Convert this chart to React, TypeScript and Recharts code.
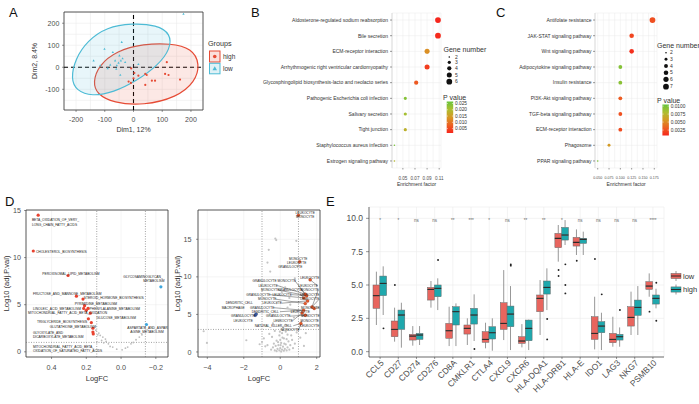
import React from 'react';
import {
  ScatterChart, Scatter, XAxis, YAxis, ZAxis, CartesianGrid, ReferenceLine, ReferenceArea,
  ComposedChart, Bar, Cell,
} from 'recharts';

const FONT = "'Liberation Sans', Arial, Helvetica, sans-serif";
const INK = '#333333';
const GRID = '#ebebeb';

// ---------- A: PCA ----------
const pcaHigh = [[116, 23], [110, -30], [122, -35], [162, -56], [41, -30], [46, -35], [64, -61], [75, -61], [41, -80], [17, -38], [3, -26], [-17, -65], [-9, -71], [0, -50], [-8, -5]];
const pcaLow = [[174, 242], [-41, 114], [-101, 83], [-72, 68], [-139, 30], [-49, 53], [-64, 30], [-44, 30], [-29, 23], [-81, 11], [-58, 8], [-60, -8], [-46, -35], [17, 14], [-116, 8], [-38, 40], [-52, 20], [-90, -5]];
const ellipseHigh = [[-141, -68], [-122, 8], [-58, 76], [35, 106], [128, 109], [203, 86], [232, 15], [214, -68], [151, -136], [35, -174], [-70, -162], [-128, -121]];
const ellipseLow = [[-218, -53], [-203, 38], [-160, 121], [-93, 182], [-6, 200], [81, 192], [130, 152], [128, 83], [87, 11], [12, -61], [-70, -114], [-145, -132], [-199, -106]];

// ---------- B / C: KEGG enrichment ----------
const bTerms = ['Aldosterone-regulated sodium reabsorption', 'Bile secretion', 'ECM-receptor interaction', 'Arrhythmogenic right ventricular cardiomyopathy', 'Glycosphingolipid biosynthesis-lacto and neolacto series', 'Pathogenic Escherichia coli infection', 'Salivary secretion', 'Tight junction', 'Staphylococcus aureus infection', 'Estrogen signaling pathway'];
const bFactor = [0.108, 0.108, 0.09, 0.09, 0.072, 0.054, 0.054, 0.054, 0.036, 0.036];
const bGenes = [6, 6, 5, 5, 4, 3, 3, 3, 2, 2];
const bPval = [0.0015, 0.002, 0.013, 0.004, 0.007, 0.024, 0.021, 0.018, 0.025, 0.019];

const cTerms = ['Antifolate resistance', 'JAK-STAT signaling pathway', 'Wnt signaling pathway', 'Adipocytokine signaling pathway', 'Insulin resistance', 'PI3K-Akt signaling pathway', 'TGF-beta signaling pathway', 'ECM-receptor interaction', 'Phagosome', 'PPAR signaling pathway'];
const cFactor = [0.171, 0.125, 0.125, 0.1, 0.1, 0.1, 0.1, 0.1, 0.075, 0.05];
const cGenes = [7, 5, 5, 4, 4, 4, 4, 4, 3, 2];
const cPval = [0.0025, 0.0021, 0.0012, 0.0095, 0.0093, 0.003, 0.0026, 0.0024, 0.0058, 0.0098];

// ---------- D: volcano (pathways) ----------
const dGray = [[0.139, 1.06], [0.134, 1.8], [0.128, 1.99], [0.12, 1.74], [0.105, 1.56], [0.09, 1.35], [0.086, 1.1], [0.073, 0.85], [0.063, 0.57], [0.048, 0.5], [0.025, 0.28], [-0.006, 0.21], [-0.025, 0.39], [-0.038, 0.5], [-0.057, 0.85], [-0.07, 0.99], [-0.086, 1.28], [-0.105, 1.56], [-0.12, 1.81], [0.1, 0.95], [0.112, 1.2], [0.145, 2.3]];
const dUp = [[0.477, 14.5], [0.505, 10.7], [0.305, 8.1], [0.257, 5.9], [0.219, 5.6], [0.21, 4.9], [0.215, 4.6], [0.19, 4.6], [0.177, 4.1], [0.188, 3.5], [0.171, 3.1], [0.162, 2.5], [0.162, 2.1], [0.16, 1.9], [0.2, 4.4]];
const dDown = [[-0.229, 6.9], [-0.146, 2.9]];
const dLabelText = ['BETA_OXIDATION_OF_VERY_', 'LONG_CHAIN_FATTY_ACIDS', 'CHOLESTEROL_BIOSYNTHESIS', 'PEROXISOMAL_LIPID_METABOLISM', 'FRUCTOSE_AND_MANNOSE_METABOLISM', 'STEROID_HORMONE_BIOSYNTHESIS', 'PYRIMIDINE_METABOLISM', 'LINOLEIC_ACID_METABOLISM', 'PHENYLALANINE_METABOLISM', 'MITOCHONDRIAL_FATTY_ACID_BETA_OXIDATION', 'GLUCOSE_METABOLISM', 'TRIGLYCERIDE_BIOSYNTHESIS', 'GLUTATHIONE_METABOLISM', 'GLYOXYLATE_AND', 'DICARBOXYLATE_METABOLISM', 'MITOCHONDRIAL_FATTY_ACID_BETA_', 'OXIDATION_OF_SATURATED_FATTY_ACIDS', 'GLYCOSAMINOGLYCAN_', 'METABOLISM', 'ASPARTATE_AND_ASPAR', 'AGINE_METABOLISM'];
const dLabelPos = [[0.513, 14.04], [0.513, 13.5], [0.49, 10.6], [0.453, 8.3], [0.507, 6.1], [0.215, 5.75], [0.267, 5.1], [0.507, 4.57], [0.181, 4.57], [0.535, 4.1], [0.141, 3.6], [0.484, 3.14], [0.41, 2.6], [0.507, 2.0], [0.507, 1.54], [0.507, 0.53], [0.507, 0.05], [-0.013, 7.98], [-0.127, 7.55], [-0.036, 2.55], [-0.053, 2.07]];

// ---------- D2: volcano (cell types) ----------
const d2Gray = [[-4.2, 2.76], [-4.02, 1.2], [-1.86, 1.56], [-1.13, 1.03], [-1.0, 1.33], [-0.82, 0.75], [-0.27, 15.1], [-0.22, 14.9], [-0.63, 13.6], [-0.7, 11.9], [-0.55, 10.7], [0.88, 14.8], [0.95, 11.4], [0.27, 8.6], [0.09, 8.0], [0.5, 7.2], [-0.2, 6.5], [0.6, 5.4], [-0.1, 4.2], [0.3, 3.6], [0.75, 4.6], [0.4, 5.9], [0.8, 9.8], [0.15, 3.3], [-0.4, 3.8], [0.55, 6.3], [-0.5, 0.3], [-0.4, 0.6], [-0.35, 1.1], [-0.3, 0.2], [-0.25, 0.8], [-0.2, 1.5], [-0.15, 0.4], [-0.1, 0.9], [-0.05, 0.2], [0, 0.5], [0.05, 1.2], [0.1, 0.3], [0.15, 0.7], [0.2, 1.8], [0.25, 0.4], [0.3, 1.0], [0.35, 0.2], [0.4, 0.6], [0.45, 1.4], [0.5, 0.3], [0.55, 0.9], [0.6, 2.2], [0.7, 0.5], [0.8, 1.1], [0.9, 2.6], [-0.6, 2.4], [-0.45, 2.0], [0.1, 2.5], [0.3, 2.7], [0.05, 0.05], [-0.2, 0.1], [0.2, 0.15], [0.0, 1.6], [-0.05, 2.2], [0.15, 2.9], [0.4, 2.3], [-0.3, 2.8], [0.65, 1.6], [1.1, 1.9], [1.4, 2.5], [1.3, 0.8], [-0.7, 0.9], [-0.9, 1.8], [0.02, 0.9], [-0.12, 1.3], [0.22, 1.1], [0.12, 1.9], [-0.02, 2.7], [0.35, 1.7]];
const d2Up = [[1.0, 18.2], [1.06, 12.0], [1.64, 9.6], [1.37, 7.7], [1.45, 7.5], [1.3, 7.2], [1.37, 6.45], [1.74, 6.0], [1.86, 5.8], [1.28, 5.56], [1.37, 4.9], [1.13, 3.8], [1.2, 5.2], [1.5, 6.8]];
const d2Down = [[-1.37, 4.9], [-1.32, 5.05]];
const d2LabelText = ['LEUKOCYTE', 'MONOCYTE', 'MONOCYTE', 'LEUKOCYTE', 'GRANULOCYTE', 'LEUKOCYTE', 'GRANULOCYTE', 'MONOCYTE', 'LEUKOCYTE', 'LEUKOCYTE', 'MONOCYTE', 'GRANULOCYTE', 'MONOCYTE', 'GRANULOCYTE', 'LEUKOCYTE', 'LEUKOCYTE', 'MONOCYTE', 'LEUKOCYTE', 'DENDRITIC_CELL', 'LEUKOCYTE', 'MACROPHAGE', 'GRANULOCYTE', 'MONOCYTE', 'DENDRITIC_CELL', 'LEUKOCYTE', 'GRANULOCYTE', 'GRANULOCYTE', 'MONOCYTE', 'LEUKOCYTE', 'LEUKOCYTE', 'MONOCYTE', 'NATURAL_KILLER_CELL', 'LEUKOCYTE', 'MONOCYTE'];
const d2LabelPos = [[1.37, 18.56], [1.37, 17.96], [0.99, 12.43], [0.9, 11.9], [0.55, 11.3], [1.62, 9.9], [-0.86, 9.43], [0.36, 9.43], [-0.66, 8.83], [1.53, 8.83], [-0.55, 8.23], [0.55, 8.23], [1.62, 8.23], [-1.2, 7.63], [0.11, 7.63], [1.62, 7.63], [-0.71, 7.03], [1.62, 7.03], [-2.25, 6.49], [-0.44, 6.49], [-2.58, 5.89], [-0.99, 5.89], [1.65, 5.89], [-0.82, 5.36], [1.1, 5.36], [-2.03, 4.76], [-0.11, 4.76], [1.65, 4.76], [-2.03, 4.16], [0.16, 4.16], [1.62, 4.1], [-0.38, 3.49], [1.62, 3.43], [0.55, 2.9]];
const d2Leaders = [[8, 3], [10, 4], [13, 5], [14, 4], [16, 6], [19, 13], [21, 9], [23, 9], [26, 10], [29, 12], [31, 11], [33, 11], [7, 3], [11, 3], [22, 8], [27, 10], [30, 11], [32, 11], [12, 7], [15, 13], [17, 7], [9, 2]];

// ---------- E: boxplots ----------
const eGenes = ['CCL5', 'CD27', 'CD274', 'CD276', 'CD8A', 'CMKLR1', 'CTLA4', 'CXCL9', 'CXCR6', 'HLA-DQA1', 'HLA-DRB1', 'HLA-E', 'IDO1', 'LAG3', 'NKG7', 'PSMB10'];
// [min, q1, median, q3, max]
const lowBox = [[2.0, 3.25, 4.2, 5.0, 6.0], [0.75, 1.12, 1.67, 2.3, 3.3], [0.45, 0.87, 1.17, 1.3, 1.92], [3.3, 3.87, 4.67, 4.82, 5.3], [0.42, 1.0, 1.57, 2.12, 3.37], [0.5, 1.32, 1.75, 2.0, 2.5], [0.25, 0.7, 0.92, 1.5, 2.17], [0.87, 1.67, 2.12, 3.67, 6.12], [0.32, 0.62, 0.8, 1.12, 2.07], [1.25, 3.0, 4.0, 4.25, 5.37], [6.75, 7.8, 8.5, 8.87, 9.5], [7.25, 7.92, 8.2, 8.57, 9.17], [0.17, 0.92, 1.37, 2.62, 4.12], [0.37, 0.67, 0.92, 1.37, 2.62], [1.25, 1.92, 2.57, 3.37, 4.5], [4.12, 4.67, 4.92, 5.25, 5.87]];
const highBox = [[2.75, 4.2, 5.12, 5.67, 6.4], [0.3, 1.67, 2.75, 3.12, 3.67], [0.5, 0.92, 1.25, 1.37, 1.92], [3.12, 4.12, 4.75, 5.0, 5.5], [0.42, 2.0, 3.0, 3.37, 3.62], [0.8, 2.07, 2.75, 3.25, 4.3], [0.07, 0.95, 1.42, 1.87, 2.5], [0.12, 1.87, 2.82, 3.42, 4.92], [0.12, 0.82, 1.75, 2.37, 2.4], [3.12, 4.32, 4.82, 5.3, 6.25], [8.0, 8.37, 8.75, 9.32, 9.87], [7.25, 8.12, 8.42, 8.5, 9.0], [0.12, 1.42, 1.92, 2.25, 2.92], [0.37, 0.87, 1.12, 1.3, 1.82], [1.25, 2.72, 3.32, 3.87, 4.92], [3.25, 3.57, 4.0, 4.25, 4.72]];
const lowOutliers = [[], [5.0], [], [], [], [], [], [], [], [], [6.12, 5.67], [6.82], [6.95], [], [], [3.0]];
const highOutliers = [[1.75], [], [], [6.87], [], [0.2], [], [6.55, 6.45], [], [2.45, 0.92], [6.55, 5.0, 4.37], [], [4.3], [3.12], [], [5.17, 2.32]];
const eSig = ['*', '*', 'ns', 'ns', '**', '***', '*', 'ns', '**', '**', '*', 'ns', 'ns', 'ns', 'ns', '****'];

// ---------- helpers ----------
const pStops: [number, number[]][] = [[0, [246, 38, 28]], [0.25, [236, 96, 34]], [0.5, [214, 152, 36]], [0.75, [172, 190, 48]], [1, [104, 196, 60]]];
function pColor(t: number) {
  const u = Math.max(0, Math.min(1, t));
  for (let i = 1; i < pStops.length; i++) {
    const [t0, c0] = pStops[i - 1];
    const [t1, c1] = pStops[i];
    if (u <= t1) {
      const f = (u - t0) / (t1 - t0);
      return `rgb(${c0.map((c, k) => Math.round(c + (c1[k] - c) * f)).join(',')})`;
    }
  }
  return 'rgb(104,196,60)';
}

type TickCfg = { side: 'x' | 'y'; len: number; gap: number; font: number; fmt?: (v: any) => string; show?: (v: number) => boolean; color?: string; rotate?: boolean };
function makeTick(c: TickCfg) {
  return (p: any) => {
    const v = p.payload.value;
    if (c.show && !c.show(v)) return <g />;
    const label = c.fmt ? c.fmt(v) : String(v);
    const fill = c.color ?? '#4d4d4d';
    if (c.side === 'x') {
      const y0 = p.y - c.gap - c.len;
      return (
        <g>
          {c.len > 0 && <line x1={p.x} x2={p.x} y1={y0} y2={y0 + c.len} stroke={INK} strokeWidth={0.5} />}
          {c.rotate ? (
            <text x={p.x + 1} y={p.y} dy="0.55em" textAnchor="end" fontSize={c.font} fill={fill} transform={`rotate(-45 ${p.x + 1} ${p.y})`}>{label}</text>
          ) : (
            <text x={p.x} y={p.y + c.font * 0.75} textAnchor="middle" fontSize={c.font} fill={fill}>{label}</text>
          )}
        </g>
      );
    }
    const x0 = p.x + c.gap + c.len;
    return (
      <g>
        {c.len > 0 && <line x1={x0 - c.len} x2={x0} y1={p.y} y2={p.y} stroke={INK} strokeWidth={0.5} />}
        <text x={p.x} y={p.y + c.font * 0.36} textAnchor="end" fontSize={c.font} fill={fill}>{label}</text>
      </g>
    );
  };
}

const signed = (d: number) => (v: number) => (v < 0 ? '\u2212' + Math.abs(v).toFixed(d) : v.toFixed(d));
const pts = (a: number[][]) => a.map(([x, y]) => ({ x, y }));
const none = () => <g />;
const dot = (r: number, fill: string, stroke?: string) => (p: any) => (
  <circle cx={p.cx} cy={p.cy} r={r} fill={fill} stroke={stroke ?? 'none'} strokeWidth={0.3} />
);
const tri = (s: number, fill: string) => (p: any) => (
  <polygon points={`${p.cx},${p.cy - s} ${p.cx - s * 0.9},${p.cy + s * 0.6} ${p.cx + s * 0.9},${p.cy + s * 0.6}`} fill={fill} />
);
const textMark = (font: number, anchor: 'start' | 'middle') => (p: any) => (
  <text x={p.cx} y={p.cy} fontSize={font} textAnchor={anchor} dominantBaseline="central" fill="#1a1a1a">{p.payload.t}</text>
);

// ---------- panels ----------
const A_HIGH = '#E64B35';
const A_LOW = '#4DBBD5';

function PanelA() {
  return (
    <div style={{ position: 'absolute', left: 0, top: 0 }}>
      <ScatterChart width={210} height={140} margin={{ top: 12, right: 7, bottom: 0, left: 0 }}>
        <CartesianGrid stroke={GRID} strokeWidth={0.6} />
        <XAxis type="number" dataKey="x" domain={[-242, 242]} allowDataOverflow ticks={[-200, -150, -100, -50, 0, 50, 100, 150, 200]} interval={0}
          tickSize={2} tickMargin={4.7} tickLine={false} axisLine={false} height={30}
          tick={makeTick({ side: 'x', len: 2, gap: 4.7, font: 7, show: (v) => v % 100 === 0 })}
          label={{ value: 'Dim1, 12%', position: 'center', dy: 5, fontSize: 7, fill: INK }} />
        <YAxis type="number" dataKey="y" domain={[-194, 251]} allowDataOverflow ticks={[-150, -100, -50, 0, 50, 100, 150, 200, 250]} interval={0}
          tickSize={2} tickMargin={2.7} tickLine={false} axisLine={false} width={64}
          tick={makeTick({ side: 'y', len: 2, gap: 2.7, font: 7, show: (v) => v % 100 === 0 })}
          label={{ value: 'Dim2, 8.4%', angle: -90, position: 'center', dx: 3, fontSize: 7, fill: INK }} />
        <Scatter data={pts(ellipseHigh)} line={{ stroke: A_HIGH, strokeWidth: 1.2, fill: A_HIGH, fillOpacity: 0.13 }} lineType="joint" lineJointType="basisClosed" shape={none} isAnimationActive={false} />
        <Scatter data={pts(ellipseLow)} line={{ stroke: A_LOW, strokeWidth: 1.2, fill: A_LOW, fillOpacity: 0.13 }} lineType="joint" lineJointType="basisClosed" shape={none} isAnimationActive={false} />
        <ReferenceLine x={0} stroke="#000" strokeDasharray="4 3" strokeWidth={1.1} />
        <ReferenceLine y={0} stroke="#000" strokeDasharray="4 3" strokeWidth={1.1} />
        <Scatter data={pts(pcaLow)} shape={tri(1.3, A_LOW)} isAnimationActive={false} />
        <Scatter data={pts(pcaHigh)} shape={dot(1.1, A_HIGH)} isAnimationActive={false} />
        <ReferenceArea x1={-242} x2={242} y1={-194} y2={251} fill="none" stroke="#333" strokeWidth={0.8} />
      </ScatterChart>
    </div>
  );
}

type EnrichProps = {
  left: number; width: number; right: number; yWidth: number; yGap: number;
  terms: string[]; factor: number[]; genes: number[]; pval: number[];
  domain: [number, number]; ticks: number[]; majors: number[]; fmtDigits: number; tickFont: number;
  pRange: [number, number]; zDomain: [number, number];
};
function Enrich(props: EnrichProps) {
  const n = props.terms.length;
  const data = props.terms.map((t, i) => ({ x: props.factor[i], y: n - i, g: props.genes[i], p: props.pval[i] }));
  const [p0, p1] = props.pRange;
  return (
    <div style={{ position: 'absolute', left: props.left, top: 0 }}>
      <ScatterChart width={props.width} height={190} margin={{ top: 13, right: props.right, bottom: 0, left: 0 }}>
        <CartesianGrid stroke={GRID} strokeWidth={0.5} />
        <XAxis type="number" dataKey="x" domain={props.domain} allowDataOverflow ticks={props.ticks} interval={0}
          tickSize={1.5} tickMargin={7} tickLine={false} axisLine={false} height={22}
          tick={makeTick({ side: 'x', len: 1.5, gap: 7, font: props.tickFont, fmt: (v) => v.toFixed(props.fmtDigits), show: (v) => props.majors.includes(v) })}
          label={{ value: 'Enrichment factor', position: 'center', dy: 5.5, fontSize: 5, fill: INK }} />
        <YAxis type="number" dataKey="y" domain={[0.55, n + 0.45]} allowDataOverflow ticks={data.map((d) => d.y)} interval={0}
          tickSize={2} tickMargin={props.yGap} tickLine={false} axisLine={{ stroke: '#bdbdbd', strokeWidth: 0.5 }} width={props.yWidth}
          tick={makeTick({ side: 'y', len: 2, gap: props.yGap, font: 5, color: INK, fmt: (v) => props.terms[n - v] })} />
        <ZAxis type="number" dataKey="g" domain={props.zDomain} range={[2, 26]} />
        <Scatter data={data} isAnimationActive={false}>
          {data.map((d, i) => <Cell key={i} fill={pColor((d.p - p0) / (p1 - p0))} />)}
        </Scatter>
      </ScatterChart>
    </div>
  );
}

function PanelD() {
  const labels = dLabelText.map((t, i) => ({ t, x: dLabelPos[i][0], y: dLabelPos[i][1] }));
  return (
    <div style={{ position: 'absolute', left: 0, top: 195 }}>
      <ScatterChart width={175} height={190} margin={{ top: 15, right: 7, bottom: 0, left: 0 }}>
        <CartesianGrid stroke={GRID} strokeWidth={0.5} />
        <XAxis type="number" dataKey="x" domain={[-0.27, 0.547]} reversed allowDataOverflow ticks={[-0.2, 0, 0.2, 0.4]} interval={0}
          tickSize={2} tickMargin={6} tickLine={false} axisLine={false} height={28}
          tick={makeTick({ side: 'x', len: 2, gap: 6, font: 7.2, fmt: signed(1) })}
          label={{ value: 'LogFC', position: 'center', dy: 7, fontSize: 7.5, fill: INK }} />
        <YAxis type="number" dataKey="y" domain={[-0.55, 15.05]} allowDataOverflow ticks={[0, 5, 10, 15]} interval={0}
          tickSize={2} tickMargin={3} tickLine={false} axisLine={false} width={26}
          tick={makeTick({ side: 'y', len: 2, gap: 3, font: 7.2 })}
          label={{ value: 'Log10 (adj.P.val)', angle: -90, position: 'center', dx: -7, fontSize: 7.5, fill: INK }} />
        <ReferenceLine x={0.14} stroke="#666" strokeDasharray="1 1.5" strokeWidth={0.6} />
        <ReferenceLine x={-0.14} stroke="#666" strokeDasharray="1 1.5" strokeWidth={0.6} />
        <ReferenceLine y={1} stroke="#666" strokeDasharray="1 1.5" strokeWidth={0.6} />
        <Scatter data={pts(dGray)} shape={dot(0.9, '#bdbdbd')} isAnimationActive={false} />
        <Scatter data={pts(dUp)} shape={dot(1.6, '#E8422F')} isAnimationActive={false} />
        <Scatter data={pts(dDown)} shape={dot(1.6, '#3EA6DD')} isAnimationActive={false} />
        <Scatter data={labels} shape={textMark(3.3, 'start')} isAnimationActive={false} />
        <ReferenceArea x1={-0.27} x2={0.547} y1={-0.55} y2={15.05} fill="none" stroke="#333" strokeWidth={0.8} />
      </ScatterChart>
    </div>
  );
}

function PanelD2() {
  const labels = d2LabelText.map((t, i) => ({ t, x: d2LabelPos[i][0], y: d2LabelPos[i][1] }));
  return (
    <div style={{ position: 'absolute', left: 170, top: 195 }}>
      <ScatterChart width={155} height={190} margin={{ top: 15, right: 5, bottom: 0, left: 0 }}>
        <CartesianGrid stroke={GRID} strokeWidth={0.5} />
        <XAxis type="number" dataKey="x" domain={[-4.51, 2.18]} allowDataOverflow ticks={[-4, -2, 0, 2]} interval={0}
          tickSize={2} tickMargin={6} tickLine={false} axisLine={false} height={28}
          tick={makeTick({ side: 'x', len: 2, gap: 6, font: 7.2, fmt: signed(0) })}
          label={{ value: 'LogFC', position: 'center', dy: 7.5, fontSize: 7.5, fill: INK }} />
        <YAxis type="number" dataKey="y" domain={[-0.67, 18.9]} allowDataOverflow ticks={[0, 5, 10, 15]} interval={0}
          tickSize={2} tickMargin={4.5} tickLine={false} axisLine={false} width={28}
          tick={makeTick({ side: 'y', len: 2, gap: 4.5, font: 7.2 })}
          label={{ value: 'Log10 (adj.P.val)', angle: -90, position: 'center', dx: -6.7, fontSize: 7.5, fill: INK }} />
        <ReferenceLine x={-1} stroke="#666" strokeDasharray="1 1.5" strokeWidth={0.6} />
        <ReferenceLine x={1} stroke="#666" strokeDasharray="1 1.5" strokeWidth={0.6} />
        <ReferenceLine y={3} stroke="#666" strokeDasharray="1 1.5" strokeWidth={0.6} />
        <Scatter data={pts(d2Gray)} shape={dot(1.1, '#c4c4c4')} isAnimationActive={false} />
        {d2Leaders.map(([li, pi], k) => {
          const [lx, ly] = d2LabelPos[li];
          const [px, py] = d2Up[pi];
          const half = (d2LabelText[li].length * 1.05) / 18.25;
          const sx = px > lx ? lx + half : lx - half;
          return <ReferenceLine key={k} segment={[{ x: sx, y: ly }, { x: px, y: py }]} stroke="#1a1a1a" strokeWidth={0.4} />;
        })}
        <Scatter data={pts(d2Up)} shape={dot(1.5, '#EA5A2A', '#7a2a10')} isAnimationActive={false} />
        <Scatter data={pts(d2Down)} shape={dot(1.5, '#3A5BA0', '#1f3160')} isAnimationActive={false} />
        <Scatter data={labels} shape={textMark(3.2, 'middle')} isAnimationActive={false} />
        <ReferenceArea x1={-4.51} x2={2.18} y1={-0.67} y2={18.9} fill="none" stroke="#333" strokeWidth={0.8} />
      </ScatterChart>
    </div>
  );
}

const E_LOW = '#E8655E';
const E_HIGH = '#1FA8AD';
const whisker = (p: any) => (
  <line x1={p.x + p.width / 2} x2={p.x + p.width / 2} y1={p.y} y2={p.y + p.height} stroke="#7d7d7d" strokeWidth={0.8} />
);
const boxLower = (fill: string) => (p: any) => (
  <rect x={p.x} y={p.y} width={p.width} height={p.height} fill={fill} stroke="#666" strokeWidth={0.5} />
);
const boxUpper = (fill: string) => (p: any) => (
  <g>
    <rect x={p.x} y={p.y} width={p.width} height={p.height} fill={fill} stroke="#666" strokeWidth={0.5} />
    <line x1={p.x} x2={p.x + p.width} y1={p.y + p.height} y2={p.y + p.height} stroke="#2a2a2a" strokeWidth={1.1} />
  </g>
);
const outlier = (key: string, dx: number) => (p: any) =>
  p.payload[key] == null ? <g /> : <circle cx={p.cx + dx} cy={p.cy} r={0.95} fill="#222" />;
const sigMark = (p: any) => (
  <text x={p.cx} y={p.cy} dy={1.5} fontSize={4.5} textAnchor="middle" fill="#666">{p.payload.sig}</text>
);

function PanelE() {
  const rows = eGenes.map((gene, i) => {
    const l = lowBox[i];
    const h = highBox[i];
    return {
      gene,
      lMin: l[0], lW1: l[1] - l[0], lB1: l[2] - l[1], lB2: l[3] - l[2], lW2: l[4] - l[3],
      hMin: h[0], hW1: h[1] - h[0], hB1: h[2] - h[1], hB2: h[3] - h[2], hW2: h[4] - h[3],
      lo0: lowOutliers[i][0] ?? null, lo1: lowOutliers[i][1] ?? null,
      ho0: highOutliers[i][0] ?? null, ho1: highOutliers[i][1] ?? null, ho2: highOutliers[i][2] ?? null,
      sigY: 9.87, sig: eSig[i],
    };
  });
  const off = 3.4;
  return (
    <div style={{ position: 'absolute', left: 330, top: 200 }}>
      <ComposedChart width={369} height={204} data={rows} barSize={6.8} barGap={0} margin={{ top: 7, right: 35, bottom: 0, left: 0 }}>
        <CartesianGrid stroke={GRID} strokeWidth={0.6} />
        <XAxis dataKey="gene" type="category" interval={0} padding={{ left: 2, right: 2 }} height={47}
          tickSize={2} tickMargin={1} tickLine={false} axisLine={{ stroke: INK, strokeWidth: 0.7 }}
          tick={makeTick({ side: 'x', len: 2, gap: 1, font: 8.5, rotate: true })} />
        <YAxis type="number" domain={[-0.4, 10.85]} allowDataOverflow ticks={[0, 2.5, 5, 7.5, 10]} interval={0}
          tickSize={3} tickMargin={3} tickLine={false} axisLine={{ stroke: INK, strokeWidth: 0.7 }} width={39}
          tick={makeTick({ side: 'y', len: 3, gap: 3, font: 8.5, fmt: (v) => v.toFixed(1) })} />
        <Bar dataKey="lMin" stackId="low" shape={none} isAnimationActive={false} />
        <Bar dataKey="lW1" stackId="low" shape={whisker} isAnimationActive={false} />
        <Bar dataKey="lB1" stackId="low" shape={boxLower(E_LOW)} isAnimationActive={false} />
        <Bar dataKey="lB2" stackId="low" shape={boxUpper(E_LOW)} isAnimationActive={false} />
        <Bar dataKey="lW2" stackId="low" shape={whisker} isAnimationActive={false} />
        <Bar dataKey="hMin" stackId="high" shape={none} isAnimationActive={false} />
        <Bar dataKey="hW1" stackId="high" shape={whisker} isAnimationActive={false} />
        <Bar dataKey="hB1" stackId="high" shape={boxLower(E_HIGH)} isAnimationActive={false} />
        <Bar dataKey="hB2" stackId="high" shape={boxUpper(E_HIGH)} isAnimationActive={false} />
        <Bar dataKey="hW2" stackId="high" shape={whisker} isAnimationActive={false} />
        <Scatter dataKey="lo0" shape={outlier('lo0', -off)} isAnimationActive={false} />
        <Scatter dataKey="lo1" shape={outlier('lo1', -off)} isAnimationActive={false} />
        <Scatter dataKey="ho0" shape={outlier('ho0', off)} isAnimationActive={false} />
        <Scatter dataKey="ho1" shape={outlier('ho1', off)} isAnimationActive={false} />
        <Scatter dataKey="ho2" shape={outlier('ho2', off)} isAnimationActive={false} />
        <Scatter dataKey="sigY" shape={sigMark} isAnimationActive={false} />
      </ComposedChart>
    </div>
  );
}

// ---------- legends and panel letters ----------
const sizeR = (z: number, zmax: number) => Math.sqrt((2 + ((z - 2) * 24) / (zmax - 2)) / Math.PI);

function ColorBar({ id, x, y0, y1, pMin, pMax, labels, digits }: { id: string; x: number; y0: number; y1: number; pMin: number; pMax: number; labels: number[]; digits: number }) {
  const yOf = (v: number) => y1 - ((v - pMin) / (pMax - pMin)) * (y1 - y0);
  return (
    <g>
      <defs>
        <linearGradient id={id} x1="0" y1="1" x2="0" y2="0">
          {pStops.map(([t, c]) => <stop key={t} offset={t} stopColor={`rgb(${c.join(',')})`} />)}
        </linearGradient>
      </defs>
      <rect x={x} y={y0} width={6.5} height={y1 - y0} fill={`url(#${id})`} />
      {labels.map((v) => (
        <g key={v}>
          <line x1={x} x2={x + 1.3} y1={yOf(v)} y2={yOf(v)} stroke="#fff" strokeWidth={0.5} />
          <line x1={x + 5.2} x2={x + 6.5} y1={yOf(v)} y2={yOf(v)} stroke="#fff" strokeWidth={0.5} />
          <text x={x + 8.3} y={yOf(v) + 1.7} fontSize={4.8} fill={INK}>{v.toFixed(digits)}</text>
        </g>
      ))}
    </g>
  );
}

function Overlay() {
  const letter = { fontSize: 13, fill: '#111' };
  return (
    <svg width={699} height={404} style={{ position: 'absolute', left: 0, top: 0 }}>
      <text x={9} y={17} {...letter}>A</text>
      <text x={251} y={17} {...letter}>B</text>
      <text x={496} y={17} {...letter}>C</text>
      <text x={5} y={206} {...letter}>D</text>
      <text x={326} y={206} {...letter}>E</text>

      {/* A legend */}
      <text x={208} y={46} fontSize={7.2} fill={INK}>Groups</text>
      <rect x={209.5} y={51} width={10.5} height={11} fill="#fbe0dc" stroke={A_HIGH} strokeWidth={1} />
      <circle cx={214.75} cy={56.5} r={1.8} fill={A_HIGH} />
      <rect x={209.5} y={63.3} width={10.5} height={10.5} fill="#dff1f6" stroke={A_LOW} strokeWidth={1} />
      <polygon points="214.75,66.3 212.5,70.3 217,70.3" fill={A_LOW} />
      <text x={223} y={59} fontSize={6.5} fill={INK}>high</text>
      <text x={223} y={71} fontSize={6.5} fill={INK}>low</text>

      {/* B legend */}
      <text x={443.5} y={52} fontSize={7} fill={INK}>Gene number</text>
      {[2, 3, 4, 5, 6].map((z, i) => (
        <g key={z}>
          <circle cx={449.3} cy={[57, 62.3, 68.3, 75, 81.7][i]} r={sizeR(z, 6)} fill="#111" />
          <text x={455} y={[57, 62.3, 68.3, 75, 81.7][i] + 1.7} fontSize={5} fill={INK}>{z}</text>
        </g>
      ))}
      <text x={443} y={99.5} fontSize={7} fill={INK}>P value</text>
      <ColorBar id="cbB" x={446.7} y0={101.5} y1={133} pMin={0.0015} pMax={0.0266} labels={[0.025, 0.02, 0.015, 0.01, 0.005]} digits={3} />

      {/* C legend */}
      <text x={657} y={47.5} fontSize={7} fill={INK}>Gene number</text>
      {[2, 3, 4, 5, 6, 7].map((z, i) => (
        <g key={z}>
          <circle cx={666} cy={[52.7, 59.3, 66, 72.7, 79.3, 86.7][i]} r={sizeR(z, 7)} fill="#111" />
          <text x={670} y={[52.7, 59.3, 66, 72.7, 79.3, 86.7][i] + 1.7} fontSize={5} fill={INK}>{z}</text>
        </g>
      ))}
      <text x={657} y={102.5} fontSize={7} fill={INK}>P value</text>
      <ColorBar id="cbC" x={662.4} y0={104.5} y1={135.5} pMin={0.0008} pMax={0.0105} labels={[0.01, 0.0075, 0.005, 0.0025]} digits={4} />

      {/* E legend */}
      {[{ y: 276, c: E_LOW, t: 'low' }, { y: 289.5, c: E_HIGH, t: 'high' }].map((k) => (
        <g key={k.t}>
          <line x1={676} x2={676} y1={k.y - 5} y2={k.y + 5} stroke="#7d7d7d" strokeWidth={0.8} />
          <rect x={671} y={k.y - 2.6} width={10} height={5.2} fill={k.c} stroke="#666" strokeWidth={0.5} />
          <line x1={671} x2={681} y1={k.y} y2={k.y} stroke="#2a2a2a" strokeWidth={1} />
          <text x={683} y={k.y + 2.6} fontSize={7.5} fill={INK}>{k.t}</text>
        </g>
      ))}
    </svg>
  );
}

export default function App() {
  return (
    <div style={{ position: 'absolute', left: 0, top: 0, width: 699, height: 404, background: '#fff', fontFamily: FONT, overflow: 'hidden' }}>
      <PanelA />
      <Enrich left={230} width={215} right={4} yWidth={162} yGap={2}
        terms={bTerms} factor={bFactor} genes={bGenes} pval={bPval}
        domain={[0.032, 0.113]} ticks={[0.04, 0.05, 0.06, 0.07, 0.08, 0.09, 0.1, 0.11]} majors={[0.05, 0.07, 0.09, 0.11]} fmtDigits={2} tickFont={4.6}
        pRange={[0.0015, 0.0266]} zDomain={[2, 6]} />
      <Enrich left={460} width={200} right={3} yWidth={135} yGap={1.5}
        terms={cTerms} factor={cFactor} genes={cGenes} pval={cPval}
        domain={[0.044, 0.181]} ticks={[0.05, 0.0625, 0.075, 0.0875, 0.1, 0.1125, 0.125, 0.1375, 0.15, 0.1625, 0.175]} majors={[0.05, 0.075, 0.1, 0.125, 0.15, 0.175]} fmtDigits={3} tickFont={3.6}
        pRange={[0.0008, 0.0105]} zDomain={[2, 7]} />
      <PanelD />
      <PanelD2 />
      <PanelE />
      <Overlay />
    </div>
  );
}
